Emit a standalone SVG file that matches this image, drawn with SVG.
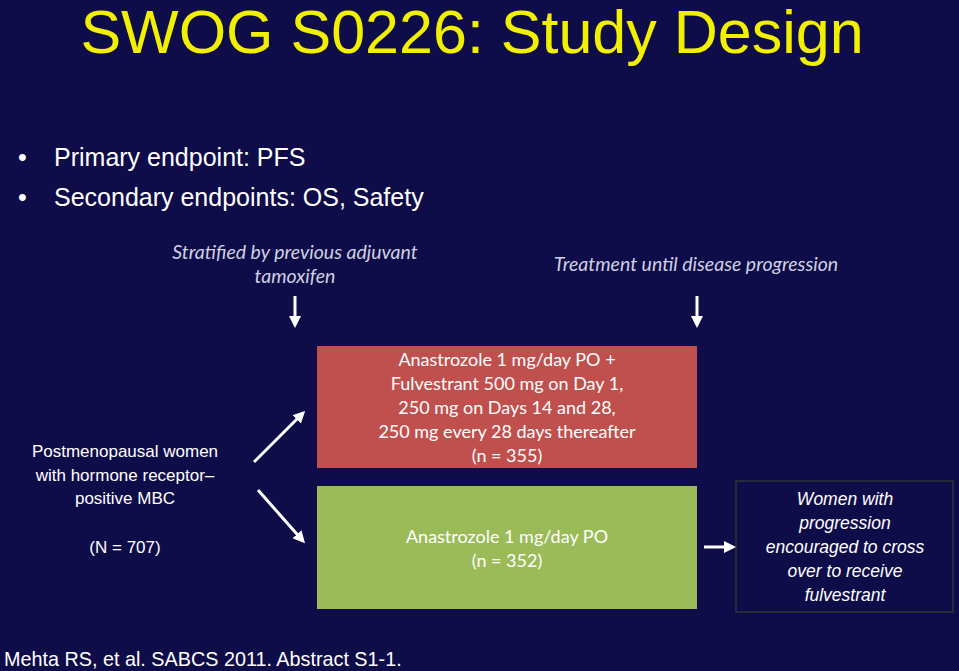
<svg xmlns="http://www.w3.org/2000/svg" width="959" height="671" viewBox="0 0 959 671">
<defs>
<marker id="ah" markerWidth="4" markerHeight="4" refX="3" refY="2" orient="auto" markerUnits="strokeWidth"><path d="M0,0 L4,2 L0,4 z" fill="#fff"/></marker>
<style>
.s{font-family:"Liberation Sans",Arial,sans-serif;fill:#fff}
.c{font-family:Lato,"Open Sans",sans-serif;fill:#fff;font-size:18px;text-anchor:middle}
.i{font-family:Lato,"Open Sans",sans-serif;fill:#d0d0e0;font-size:19.5px;font-style:italic;text-anchor:middle}
.ln{stroke:#fff;stroke-width:3;fill:none;marker-end:url(#ah)}
</style>
</defs>
<rect width="959" height="671" fill="#0f0c4a"/>
<text x="472" y="53" class="s" style="fill:#f0f000;font-size:61px" text-anchor="middle">SWOG S0226: Study Design</text>
<g class="s" font-size="25">
<text x="18" y="166">•</text><text x="54" y="166">Primary endpoint: PFS</text>
<text x="18" y="206">•</text><text x="54" y="206">Secondary endpoints: OS, Safety</text>
</g>
<text class="i" x="295" y="259">Stratified by previous adjuvant</text>
<text class="i" x="295" y="283">tamoxifen</text>
<text class="i" x="696" y="271">Treatment until disease progression</text>
<g id="pop" class="s" font-size="17" text-anchor="middle">
<text x="125" y="457">Postmenopausal women</text>
<text x="125" y="481">with hormone receptor–</text>
<text x="125" y="504">positive MBC</text>
<text x="125" y="553">(N = 707)</text>
</g>
<g id="arm1"><rect x="317" y="346" width="380" height="122" fill="#c0504d"/>
<text class="c" x="507" y="366">Anastrozole 1 mg/day PO +</text>
<text class="c" x="507" y="390">Fulvestrant 500 mg on Day 1,</text>
<text class="c" x="507" y="414">250 mg on Days 14 and 28,</text>
<text class="c" x="507" y="438">250 mg every 28 days thereafter</text>
<text class="c" x="507" y="462">(n = 355)</text></g>
<g id="arm2"><rect x="317" y="486" width="380" height="123" fill="#9bbb59"/>
<text class="c" x="507" y="543">Anastrozole 1 mg/day PO</text>
<text class="c" x="507" y="567">(n = 352)</text></g>
<g id="cross"><rect x="736" y="481" width="217" height="131" fill="#0f0c4a" stroke="#333" stroke-width="1.5"/>
<g class="s" font-size="17.5" font-style="italic" text-anchor="middle">
<text x="845" y="505">Women with</text><text x="845" y="529">progression</text>
<text x="845" y="553">encouraged to cross</text><text x="845" y="577">over to receive</text>
<text x="845" y="601">fulvestrant</text></g></g>
<g id="connectors">
<line class="ln" x1="295" y1="296" x2="295" y2="325"/>
<line class="ln" x1="697" y1="296" x2="697" y2="325"/>
<line class="ln" x1="254" y1="462" x2="303" y2="413"/>
<line class="ln" x1="258" y1="490" x2="303" y2="541"/>
<line class="ln" x1="704" y1="547" x2="733" y2="547"/>
</g>
<text x="4" y="666" class="s" font-size="19.8">Mehta RS, et al. SABCS 2011. Abstract S1-1.</text>
</svg>
